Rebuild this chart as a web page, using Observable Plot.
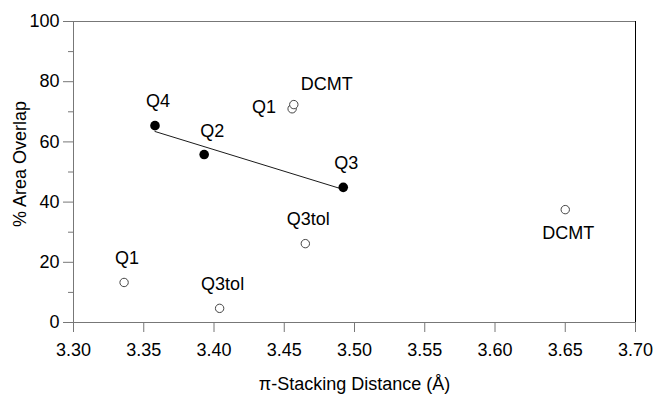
<!DOCTYPE html>
<html><head><meta charset="utf-8">
<script src="https://cdn.jsdelivr.net/npm/d3@7"></script>
<script src="https://cdn.jsdelivr.net/npm/@observablehq/plot@0.6"></script>
<style>body{margin:0;background:#fff;font-family:"Liberation Sans",Arial,sans-serif}</style>
</head><body><div id="chart"></div>
<script>
const names = ["Q4", "Q2", "Q3", "Q1", "DCMT", "Q3tol", "Q3tol", "Q1", "DCMT"];
const distance = [3.358, 3.393, 3.492, 3.4556, 3.4568, 3.465, 3.404, 3.336, 3.650];
const overlap = [65.4, 55.8, 44.9, 71.0, 72.4, 26.2, 4.7, 13.3, 37.5];
const filled = [true, true, true, false, false, false, false, false, false];
const labelPlacement = ["above", "aboveRight", "above", "left", "upRight", "above", "above", "above", "below"];
const xTicks = [3.30, 3.35, 3.40, 3.45, 3.50, 3.55, 3.60, 3.65, 3.70];
const yTicks = [0, 20, 40, 60, 80, 100];
const yMinorTicks = [10, 30, 50, 70, 90];

const data = names.map((n, i) => ({name: n, x: distance[i], y: overlap[i], filled: filled[i], place: labelPlacement[i]}));
const placements = {
  above: {textAnchor: "middle", dx: 3, dy: -24},
  aboveRight: {textAnchor: "middle", dx: 8, dy: -23},
  left: {textAnchor: "end", dx: -16, dy: -2},
  upRight: {textAnchor: "start", dx: 7, dy: -20},
  below: {textAnchor: "middle", dx: 3, dy: 24}
};
const font = {fontSize: 18, fill: "#000"};
const axisGray = "#777";

const labelMarks = Object.entries(placements).map(([k, p]) =>
  Plot.text(data.filter(d => d.place === k), {x: "x", y: "y", text: "name", ...p, ...font, lineAnchor: "middle"}));

const chart = Plot.plot({
  width: 655, height: 396,
  marginLeft: 73, marginRight: 20, marginTop: 21, marginBottom: 74,
  style: {fontFamily: "'Liberation Sans', Arial, sans-serif", background: "#fff", overflow: "visible"},
  x: {domain: [3.30, 3.70], axis: null},
  y: {domain: [0, 100], axis: null},
  marks: [
    Plot.ruleY([100], {stroke: axisGray}),
    Plot.ruleX([3.70], {stroke: "#000"}),
    Plot.ruleX([3.30], {stroke: axisGray}),
    Plot.ruleY([0], {stroke: axisGray}),
    Plot.axisX({ticks: xTicks, tickFormat: d3.format(".2f"), tickSize: 10, tickPadding: 11, stroke: axisGray, ...font, label: null}),
    Plot.axisY({ticks: yTicks, tickSize: 10, tickPadding: 4, stroke: axisGray, ...font, label: null}),
    Plot.axisY({ticks: yMinorTicks, tickSize: 5, tickFormat: () => "", stroke: axisGray, label: null}),
    Plot.linearRegressionY(data.filter(d => d.filled), {x: "x", y: "y", ci: 0, stroke: "#000", strokeWidth: 0.9}),
    Plot.dot(data.filter(d => !d.filled), {x: "x", y: "y", r: 4.2, fill: "#fff", stroke: "#444", strokeWidth: 1}),
    Plot.dot(data.filter(d => d.filled), {x: "x", y: "y", r: 4.8, fill: "#000"}),
    ...labelMarks,
    Plot.text(["π-Stacking Distance (Å)"], {frameAnchor: "bottom", dy: 62, ...font, textAnchor: "middle", lineAnchor: "middle"}),
    Plot.text(["% Area Overlap"], {frameAnchor: "left", dx: -53, dy: -8, rotate: -90, ...font, textAnchor: "middle", lineAnchor: "middle"})
  ]
});
document.getElementById("chart").appendChild(chart);
</script>
</body></html>
